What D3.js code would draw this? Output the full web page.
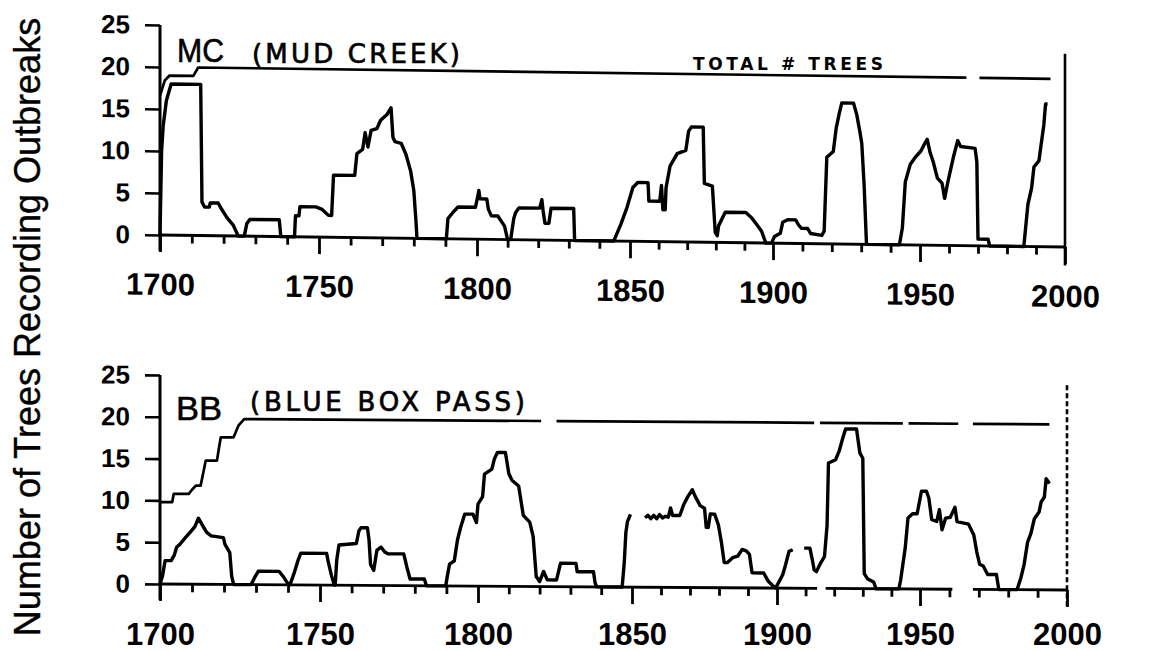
<!DOCTYPE html>
<html>
<head>
<meta charset="utf-8">
<script src="https://cdn.jsdelivr.net/npm/d3@7"></script>
<style>
  html, body { margin: 0; padding: 0; background: #fff; }
  svg { display: block; }
  text { fill: #000; }
</style>
</head>
<body>
<script>
// ---------------- DATA ----------------
const yearTicks = [1700, 1750, 1800, 1850, 1900, 1950, 2000];
const minorYearTicks = d3.range(1700, 2001, 10);
const valueTicks = [0, 5, 10, 15, 20, 25];
const yAxisTitle = "Number of Trees Recording Outbreaks";

const mcLabel = "MC";
const mcName = "(MUD CREEK)";
const totalLabel = "TOTAL # TREES";
const bbLabel = "BB";
const bbName = "(BLUE BOX PASS)";

// Mud Creek: number of trees recording outbreaks [year, count]
const mcOutbreaks = [
  [1700,0],[1700.5,10],[1701,13],[1702,16],[1703.5,18],[1712.8,18],[1713.2,4],[1714,3.4],[1715.5,3.4],[1715.8,3.9],[1718.3,3.9],[1719,3.4],[1721,2.2],[1723,1.3],[1724.6,0],
  [1726.5,0],[1727.3,1.5],[1728.3,2],[1737.5,2],[1738,0],
  [1742.3,0],[1742.6,2.5],[1743.7,2.5],[1744,3.6],[1749,3.6],[1751,3.3],[1753,2.6],[1754,2.6],[1754.6,7.4],[1761.3,7.4],[1762,10],[1763.8,10.5],[1764.6,12.5],[1765.5,10.8],[1766.5,12.8],[1768.3,13],[1769.5,14],[1771.5,14.7],[1772.8,15.5],[1773.4,12],[1774,11.5],[1776,11.3],[1777.5,10],[1779,8],[1780,5.7],[1780.7,2],[1781,0],
  [1790.3,0],[1790.8,2.4],[1792.5,3.2],[1794,3.8],[1799.5,3.8],[1800.2,5],[1800.6,5.8],[1801,4.8],[1803.2,4.8],[1803.7,3.6],[1804.7,2.8],[1806.8,2.8],[1809,1.6],[1810,0],
  [1811,0],[1812,2.5],[1812.6,3.2],[1813.7,3.8],[1820.5,3.8],[1821.2,4.8],[1821.6,3.5],[1822.2,2],[1823.5,2],[1824.2,3.8],[1831.6,3.8],[1831.9,0],
  [1844.7,0],[1847,2],[1849,4],[1851,6.4],[1852.7,7],[1856.3,7],[1856.6,4.8],[1860.4,4.8],[1861,6.7],[1861.5,3.8],[1862.3,3.8],[1862.6,6.4],[1864,9],[1866.5,10.5],[1869.5,10.9],[1870.5,13.2],[1871.5,13.7],[1875.6,13.7],[1876,7],[1878.8,6.7],[1879.8,1.2],[1880.5,0.8],[1881,2],[1883.3,3.6],[1890.5,3.6],[1892.5,3],[1894.3,2.2],[1896,1.4],[1897.5,0],
  [1899.5,0],[1900.5,0.8],[1902.5,1.2],[1903.3,2.5],[1905,2.8],[1907.7,2.8],[1908.7,2.2],[1909.7,1.8],[1911.8,1.8],[1912.8,1.2],[1916.6,1],[1917.4,1.5],[1918.3,10.3],[1920.5,11],[1921.5,13.8],[1922.5,15.5],[1923.4,16.8],[1927.4,16.8],[1928.5,15.4],[1929.5,13.5],[1930.2,12],[1931,7],[1931.8,0],
  [1943,0],[1944,2],[1945,7.5],[1946.7,9.6],[1948.3,10.4],[1950.3,11.2],[1951.8,12.2],[1952.5,12.6],[1953.5,11],[1954.5,10],[1956,8],[1957.6,7.4],[1958.5,5.6],[1959.5,7.4],[1961.5,10.5],[1963,12.5],[1964,11.8],[1969,11.6],[1969.6,10],[1970,0.8],[1973.5,0.8],[1974,0],
  [1985.8,0],[1986.5,2.5],[1987.2,5],[1988.5,7],[1989.3,9.5],[1991,10.2],[1991.7,12],[1992.7,14.5],[1993.3,17],[1994,17]
];
// Mud Creek: total number of trees (null = gap in the line)
const mcTotal = [
  [1700,16.6],[1701.5,18.4],[1703,19],[1710.5,19],[1712,20],[1966,20], null,
  [1970.5,20],[1995,20]
];

// Blue Box Pass: number of trees recording outbreaks
const bbOutbreaks = [
  [1700,0],[1700.8,1],[1701.6,2.8],[1703.5,2.8],[1704.5,3.5],[1705.2,4.4],[1706.3,4.8],[1707.8,5.5],[1709.4,6.2],[1710.9,6.9],[1712,7.9],[1713.5,6.9],[1714.6,6.2],[1716,5.8],[1719.8,5.6],[1720.3,4.8],[1721.8,3.8],[1722.4,1],[1723,0],
  [1728.5,0],[1729.5,0.8],[1730.7,1.6],[1737.2,1.6],[1738.5,1],[1740.2,0],
  [1740.6,0],[1742,1.5],[1743.2,3],[1744,3.8],[1752.1,3.8],[1752.6,2.8],[1753.6,1.2],[1754.5,0],
  [1754.8,0],[1755.3,3],[1756,4.8],[1761.5,5],[1762.3,6.5],[1763,6.9],[1765,6.9],[1765.5,5.5],[1766,2.5],[1767,1.8],[1768,4.2],[1769.3,4.6],[1770.5,4],[1771.5,3.8],[1776.5,3.8],[1777.5,2.2],[1778.5,0.8],[1783,0.8],[1783.7,0],
  [1789.8,0],[1790.3,1.2],[1791,2.6],[1792.5,3],[1793.5,5.5],[1794.5,7],[1795.8,8.6],[1798.4,8.6],[1799.5,7.6],[1800,9.8],[1801.5,10.7],[1802.1,13.4],[1804.5,14],[1805.3,15.2],[1806.3,16],[1808.9,16],[1810,13.5],[1811,12.7],[1813.2,12],[1814.7,8.5],[1816.8,7.7],[1817.9,6],[1818.9,1.2],[1820,0.6],[1821.3,1.8],[1822.5,0.8],[1825.5,0.8],[1826.8,2.8],[1831.8,2.8],[1832.2,1.8],[1837.5,1.8],[1838,0.5],[1838.5,0],
  [1846.8,0],[1847.5,3],[1848,6.5],[1848.5,7.8],[1849.5,8.7], null,
  [1854.5,8.3],[1855.5,8.6],[1856.5,8.2],[1857.5,8.6],[1858.5,8.2],[1859.5,8.7],[1860.5,8.3],[1861.5,8.5],[1862.5,8.4],[1863.3,9.5],[1864,8.6],[1866.5,8.6],[1867.8,9.9],[1869.3,10.9],[1870.8,11.7],[1871.8,10.9],[1873.5,9.8],[1875,9.5],[1875.6,7.2],[1876.3,7.2],[1877,8.8],[1878.5,8.8],[1879.8,7.5],[1880.8,5.5],[1881.8,3],[1882.8,3],[1884.7,3.6],[1886.5,3.8],[1888,4.6],[1889.5,4.4],[1890.5,4],[1891.4,1.8],[1895.4,1.8],[1897,0.8],[1898.5,0.3],[1899.5,0],
  [1900.3,0.5],[1902,1.6],[1903,2.8],[1904.2,4.4],[1905.5,4.6], null,
  [1909.5,4.8],[1911.5,4.8],[1912.3,3.5],[1913,2.2],[1913.8,2],[1915.2,3],[1916.6,3.8],[1917.5,7.5],[1918,15],[1920.5,15.4],[1921.8,16.5],[1923,18],[1924,19.1],[1927.8,19.1],[1929,16.2],[1930,15.6],[1930.5,1.8],[1931.6,1.2],[1933.8,0.8],[1934.6,0],
  [1942.6,0],[1943.2,1],[1944.8,4.8],[1945.8,8.5],[1947.4,9],[1949,9],[1950.5,11.7],[1952.2,11.7],[1953,10.9],[1954,8.3],[1955.7,8.1],[1956.6,9.5],[1957.5,7.1],[1958.7,8.5],[1960.3,8.6],[1961.9,9.8],[1962.6,8.1],[1966.5,7.8],[1968.3,6.5],[1969.3,4.5],[1970.3,3],[1971.5,2.8],[1973,1.8],[1976,1.8],[1976.8,0],
  [1983,0],[1984.3,1.4],[1985.4,3],[1986.6,5.7],[1987.7,6.7],[1988.9,8.5],[1990.5,9.3],[1991.2,10.5],[1992.3,11.1],[1992.9,13.3],[1993.5,13],[1994,12.7]
];
// Blue Box Pass: total number of trees
const bbTotal = [
  [1700,9.8],[1703.8,9.8],[1704.3,10.8],[1709,10.8],[1710,11.3],[1711.2,11.8],[1712.7,11.8],[1713.6,13.5],[1714.3,14.8],[1717.8,14.8],[1718.5,16.5],[1719,17.6],[1723,17.6],[1724.5,19],[1726.3,19.8],[1820.5,19.8], null,
  [1825.5,19.8],[1913,19.8], null,
  [1915,19.8],[1944,19.8], null,
  [1946,19.8],[1963,19.8], null,
  [1968,19.8],[1994,19.8]
];
// baseline pieces (gaps in the scanned axis)
const bbBaseline = [[1700,0],[1914,0], null, [1917,0],[1961,0], null, [1968,0],[2000,0]];
const mcBaseline = [[1700,0],[2000,0]];

// ---------------- LAYOUT ----------------
const W = 1162, H = 651;
const FONT = "'Liberation Sans', Arial, sans-serif";
const yearFmt = d3.format("d");
const svg = d3.select("body").append("svg").attr("width", W).attr("height", H)
  .style("font-family", FONT);

const panels = [
  { outbreaks: mcOutbreaks, total: mcTotal, baseline: mcBaseline,
    xr: [160, 319, 477, 630, 773, 920, 1065], y0: 235, y25: 25, skew: 12,
    labelOffset: 60, skewLabels: true,
    borderDash: null, borderTop: 23, label: mcLabel, name: mcName,
    labelPos: [177, 62, 47], namePos: [252, 63, 208] },
  { outbreaks: bbOutbreaks, total: bbTotal, baseline: bbBaseline,
    xr: [160, 320, 478, 632, 777, 920, 1067], y0: 584, y25: 375, skew: 6,
    labelOffset: 61, skewLabels: false,
    borderDash: "5,3", borderTop: 24.5, label: bbLabel, name: bbName,
    labelPos: [176, 420, 46], namePos: [250, 411, 275] }
];

panels.forEach((p) => {
  const x = d3.scaleLinear().domain(yearTicks).range(p.xr);
  const y = d3.scaleLinear().domain([0, 25]).range([p.y0, p.y25]);
  const k = p.skew / (p.xr[p.xr.length - 1] - p.xr[0]);
  const g = svg.append("g")
    .attr("transform", `matrix(1,${k},0,1,0,${-p.xr[0] * k})`);

  const line = d3.line()
    .defined(d => d != null)
    .x(d => x(d[0])).y(d => y(d[1]));

  // y axis
  const yAxis = d3.axisLeft(y).tickValues(valueTicks).tickSize(15).tickPadding(15);
  const ya = g.append("g").attr("transform", `translate(${x(1700)},0)`).call(yAxis);
  ya.select(".domain").remove();
  ya.selectAll(".tick line").attr("stroke", "#000").attr("stroke-width", 2.6);
  ya.selectAll(".tick text").attr("font-size", 26).attr("font-weight", "bold")
    .attr("font-family", FONT);
  g.append("line")
    .attr("x1", x(1700)).attr("x2", x(1700))
    .attr("y1", y(25)).attr("y2", y(-1.9))
    .attr("stroke", "#000").attr("stroke-width", 3);

  // x axis ticks (skewed with the panel)
  const xAxis = d3.axisBottom(x).tickValues(minorYearTicks)
    .tickFormat(d => (p.skewLabels && d % 50 === 0) ? yearFmt(d) : "").tickSizeOuter(0);
  const xa = g.append("g").attr("transform", `translate(0,${y(0)})`).call(xAxis);
  xa.select(".domain").remove();
  xa.selectAll(".tick line")
    .attr("y2", d => d % 50 === 0 ? 17 : 8)
    .attr("stroke", "#000").attr("stroke-width", 2.8);
  xa.selectAll(".tick text")
    .attr("y", p.labelOffset).attr("dy", 0)
    .attr("font-size", 31).attr("font-weight", "bold")
    .attr("font-family", FONT);

  // x tick labels that sit level (lower panel)
  if (!p.skewLabels) {
    const xl = svg.append("g").attr("transform", `translate(0,${y(0)})`)
      .call(d3.axisBottom(x).tickValues(yearTicks).tickFormat(yearFmt)
        .tickSize(0).tickPadding(0));
    xl.select(".domain").remove();
    xl.selectAll(".tick text")
      .attr("y", p.labelOffset).attr("dy", 0)
      .attr("font-size", 31).attr("font-weight", "bold")
      .attr("font-family", FONT);
  }

  // baseline
  g.append("path").datum(p.baseline).attr("d", line)
    .attr("fill", "none").attr("stroke", "#000").attr("stroke-width", 2.8);

  // right border
  g.append("line")
    .attr("x1", x(2000)).attr("x2", x(2000))
    .attr("y1", y(p.borderTop)).attr("y2", y(-2.2))
    .attr("stroke", "#000").attr("stroke-width", 2.6)
    .attr("stroke-dasharray", p.borderDash);

  // total # trees
  g.append("path").datum(p.total).attr("d", line)
    .attr("fill", "none").attr("stroke", "#000").attr("stroke-width", 2.7)
    .attr("stroke-linejoin", "round");

  // outbreaks
  g.append("path").datum(p.outbreaks).attr("d", line)
    .attr("fill", "none").attr("stroke", "#000").attr("stroke-width", 3.4)
    .attr("stroke-linejoin", "round");

  // panel labels
  svg.append("text").attr("x", p.labelPos[0]).attr("y", p.labelPos[1])
    .attr("font-size", 34).attr("textLength", p.labelPos[2])
    .attr("lengthAdjust", "spacingAndGlyphs")
    .attr("stroke", "#000").attr("stroke-width", 0.6)
    .text(p.label);
  svg.append("text").attr("x", p.namePos[0]).attr("y", p.namePos[1])
    .attr("font-size", 26).attr("textLength", p.namePos[2])
    .attr("lengthAdjust", "spacing")
    .attr("stroke", "#000").attr("stroke-width", 0.7)
    .style("font-family", "'DejaVu Sans', sans-serif")
    .text(p.name);
});

// "TOTAL # TREES" annotation
svg.append("text").attr("x", 693).attr("y", 70)
  .attr("font-size", 17).attr("font-weight", "bold")
  .attr("textLength", 190).attr("lengthAdjust", "spacing")
  .style("font-family", "'DejaVu Sans', sans-serif")
  .text(totalLabel);

// y axis title
svg.append("text")
  .attr("transform", "translate(40,327) rotate(-90)")
  .attr("text-anchor", "middle")
  .attr("font-size", 36)
  .attr("stroke", "#000").attr("stroke-width", 0.4)
  .text(yAxisTitle);
</script>
</body>
</html>
